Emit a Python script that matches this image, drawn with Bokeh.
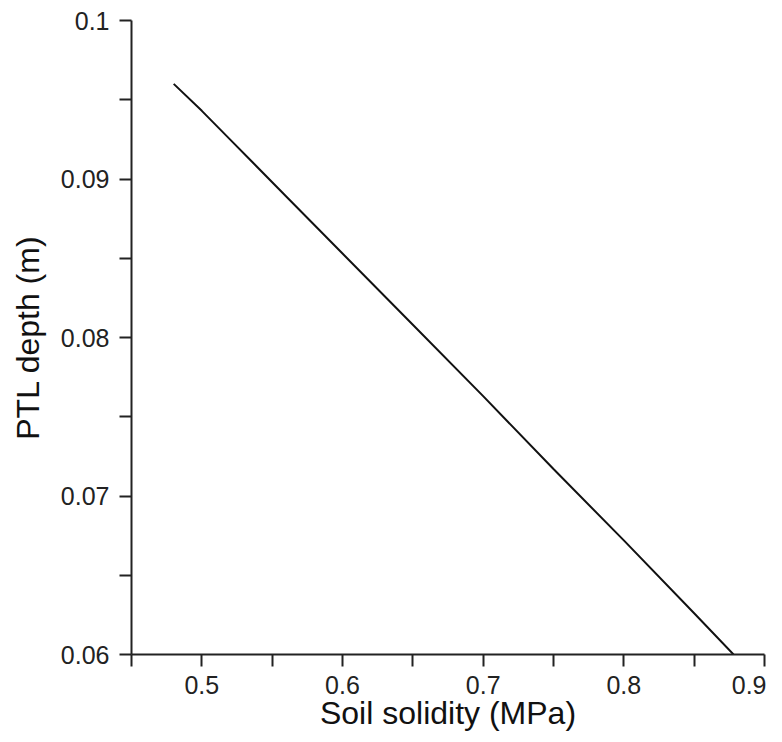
from bokeh.plotting import figure
from bokeh.models import Range1d, FixedTicker
from bokeh.embed import file_html
from bokeh.resources import INLINE

# data
solidity = [0.48, 0.50, 0.52, 0.56, 0.60, 0.65, 0.70, 0.75, 0.80, 0.85, 0.878]
depth = [0.0960, 0.0943, 0.0925, 0.0889, 0.0853, 0.0808, 0.0763, 0.0717, 0.0672, 0.0626, 0.0600]

x_major = [0.45, 0.5, 0.6, 0.7, 0.8, 0.9]
x_major_labels = ["", "0.5", "0.6", "0.7", "0.8", "0.9"]
x_minor = [0.55, 0.65, 0.75, 0.85]
y_major = [0.06, 0.07, 0.08, 0.09, 0.1]
y_major_labels = ["0.06", "0.07", "0.08", "0.09", "0.1"]
y_minor = [0.065, 0.075, 0.085, 0.095]

FONT = "Liberation Sans"

p = figure(width=766, height=734, output_backend="svg", toolbar_location=None,
           x_range=Range1d(0.45, 0.9), y_range=Range1d(0.06, 0.1),
           min_border_left=131, min_border_right=2, min_border_top=20,
           min_border_bottom=80)
p.outline_line_color = None
p.xgrid.visible = False
p.ygrid.visible = False

p.line(solidity, depth, line_color="#111111", line_width=2)

for ax, major, labels, minor in ((p.xaxis[0], x_major, x_major_labels, x_minor),
                                 (p.yaxis[0], y_major, y_major_labels, y_minor)):
    ax.ticker = FixedTicker(ticks=major, minor_ticks=minor)
    ax.major_label_overrides = {t: l for t, l in zip(major, labels)}
    ax.axis_line_color = "#222222"
    ax.axis_line_width = 2
    ax.major_tick_line_color = "#222222"
    ax.minor_tick_line_color = "#222222"
    ax.major_tick_line_width = 2
    ax.minor_tick_line_width = 2
    ax.major_tick_in = 0
    ax.major_tick_out = 12
    ax.minor_tick_in = 0
    ax.minor_tick_out = 12
    ax.major_label_text_font = FONT
    ax.major_label_text_font_size = "25px"
    ax.major_label_text_color = "#222222"
    ax.axis_label_text_font = FONT
    ax.axis_label_text_font_size = "32px"
    ax.axis_label_text_font_style = "normal"
    ax.axis_label_text_color = "#111111"

p.xaxis.axis_label = "Soil solidity (MPa)"
p.yaxis.axis_label = "PTL depth (m)"
p.xaxis.major_label_standoff = 9
p.yaxis.major_label_standoff = 10
p.xaxis.axis_label_standoff = -2
p.yaxis.axis_label_standoff = 12

open("out.html", "w").write(file_html(p, INLINE))
